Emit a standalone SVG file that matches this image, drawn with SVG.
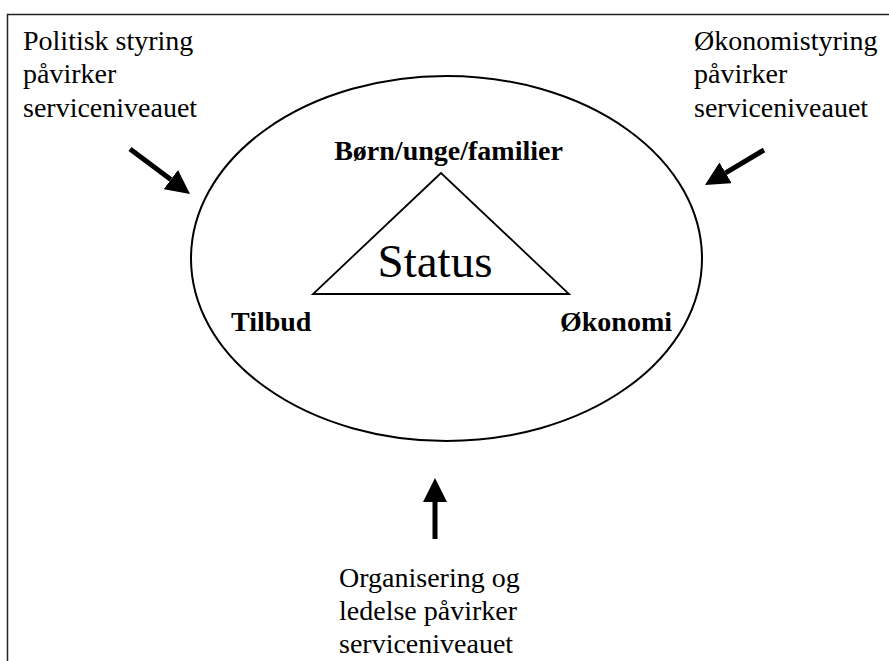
<svg xmlns="http://www.w3.org/2000/svg" width="889" height="661" viewBox="0 0 889 661">
<style>
.t{font-family:"Liberation Serif","Times New Roman",serif;font-size:28px;fill:#000}
.b{font-weight:bold}
.arr{stroke:#000;stroke-width:5;fill:none}
</style>
<defs>
<marker id="ah" viewBox="0 0 24 24" markerWidth="24" markerHeight="24" refX="0" refY="12" orient="auto" markerUnits="userSpaceOnUse">
<path d="M0,0 L24,12 L0,24 z" fill="#000"/>
</marker>
</defs>
<rect x="0" y="0" width="889" height="661" fill="#fff"/>
<rect x="7.5" y="14.5" width="900" height="700" fill="none" stroke="#222" stroke-width="1.5"/>
<g id="ellipse">
<ellipse cx="446.5" cy="258.5" rx="255.5" ry="182.5" fill="none" stroke="#000" stroke-width="2"/>
</g>
<g id="triangle">
<polygon points="441,173 313,294 569,294" fill="none" stroke="#000" stroke-width="1.8"/>
<text class="t" x="435" y="277" text-anchor="middle" style="font-size:47px">Status</text>
</g>
<g id="n-born"><text class="t b" x="448.5" y="160" text-anchor="middle">Børn/unge/familier</text></g>
<g id="n-tilbud"><text class="t b" x="231" y="331">Tilbud</text></g>
<g id="n-okonomi"><text class="t b" x="560" y="331">Økonomi</text></g>
<g id="n-politisk">
<text class="t" x="23" y="50">Politisk styring</text>
<text class="t" x="23" y="83">påvirker</text>
<text class="t" x="23" y="117">serviceniveauet</text>
</g>
<g id="n-okstyring">
<text class="t" x="694" y="50">Økonomistyring</text>
<text class="t" x="694" y="83">påvirker</text>
<text class="t" x="694" y="117">serviceniveauet</text>
</g>
<g id="n-org">
<text class="t" x="339" y="587">Organisering og</text>
<text class="t" x="339" y="620">ledelse påvirker</text>
<text class="t" x="339" y="653">serviceniveauet</text>
</g>
<g id="connectors">
<line class="arr" x1="130" y1="149" x2="170.8" y2="179.6" marker-end="url(#ah)"/>
<line class="arr" x1="764" y1="150" x2="725.6" y2="172.8" marker-end="url(#ah)"/>
<line class="arr" x1="435" y1="539" x2="435" y2="502" marker-end="url(#ah)"/>
</g>
</svg>
